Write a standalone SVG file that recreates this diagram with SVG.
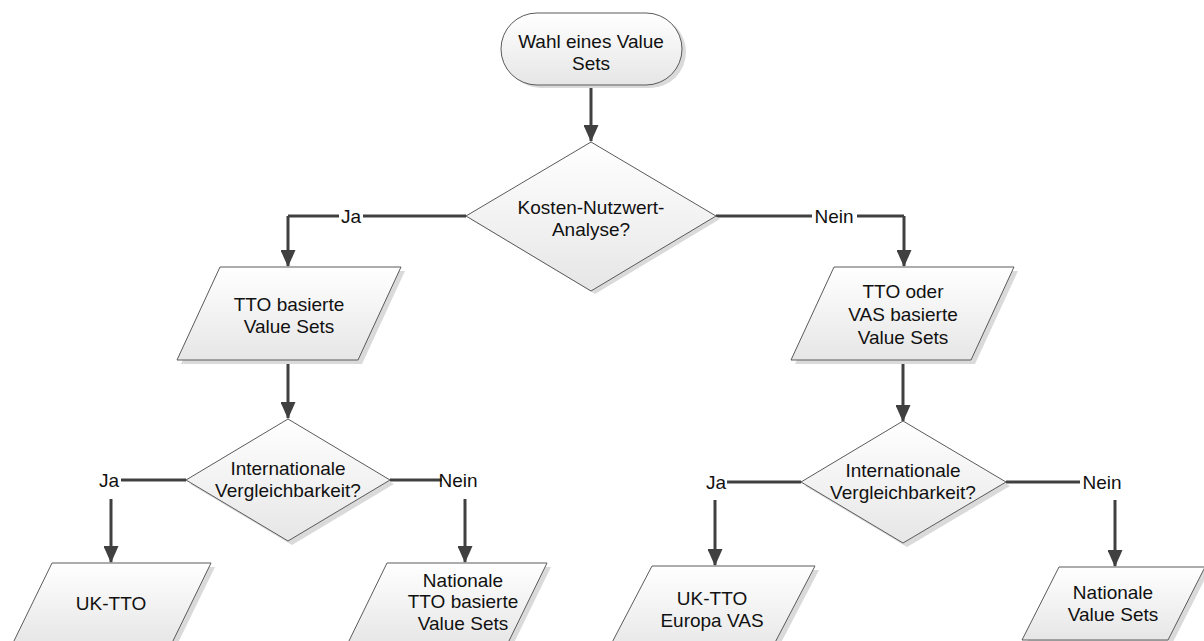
<svg xmlns="http://www.w3.org/2000/svg" width="1204" height="641" viewBox="0 0 1204 641">
<defs>
<linearGradient id="g" x1="0" y1="0" x2="0" y2="1"><stop offset="0" stop-color="#ffffff"/><stop offset="1" stop-color="#e6e6e6"/></linearGradient>
<marker id="ah" markerUnits="userSpaceOnUse" markerWidth="17" markerHeight="15" refX="16" refY="7.5" orient="auto" viewBox="0 0 17 15"><path d="M0,0 L17,7.5 L0,15 z" fill="#404040"/></marker>
</defs>
<style>
.sh{fill:#dadada}
.s{fill:url(#g);stroke:#5a5a5a;stroke-width:1}
text{font-family:"Liberation Sans",Arial,sans-serif;font-size:19px;fill:#111;text-anchor:middle}
.c{fill:none;stroke:#404040;stroke-width:3}
.a{marker-end:url(#ah)}
</style>
<rect width="1204" height="641" fill="#ffffff"/>

<g id="connectors">
<path class="c a" d="M591,85 V141"/>
<path class="c" d="M466,216 H363 M339,216 H288"/>
<path class="c a" d="M288,216 V266"/>
<path class="c" d="M716,216 H812 M857,216 H904"/>
<path class="c a" d="M904,216 V266"/>
<path class="c a" d="M288,360 V418"/>
<path class="c a" d="M903,360 V421"/>
<path class="c" d="M186,480 H121"/>
<path class="c a" d="M111,499 V562"/>
<path class="c" d="M390,480 H442"/>
<path class="c a" d="M465,499 V562"/>
<path class="c" d="M801,482 H727"/>
<path class="c a" d="M715,500 V565"/>
<path class="c" d="M1006,482 H1080"/>
<path class="c a" d="M1115,500 V566"/>
<text x="351" y="223">Ja</text>
<text x="834" y="223">Nein</text>
<text x="109" y="487">Ja</text>
<text x="458" y="487">Nein</text>
<text x="716" y="489">Ja</text>
<text x="1102" y="489">Nein</text>
</g>

<g id="start">
<rect class="sh" x="505" y="16" width="181" height="72" rx="36"/>
<rect class="s" x="501" y="13" width="181" height="72" rx="36"/>
<text x="591" y="48">Wahl eines Value</text>
<text x="591" y="70">Sets</text>
</g>

<g id="decision-kna">
<polygon class="sh" points="595,145 720,219 595,294 470,219"/>
<polygon class="s" points="591,142 716,216 591,291 466,216"/>
<text x="591" y="214">Kosten-Nutzwert-</text>
<text x="591" y="236">Analyse?</text>
</g>

<g id="tto-value-sets">
<polygon class="sh" points="224,271 405,271 362,364 181,364"/>
<polygon class="s" points="220,267 401,267 358,360 177,360"/>
<text x="289" y="311">TTO basierte</text>
<text x="289" y="333">Value Sets</text>
</g>

<g id="tto-vas-value-sets">
<polygon class="sh" points="838,271 1018,271 975,364 795,364"/>
<polygon class="s" points="834,267 1014,267 971,360 791,360"/>
<text x="903" y="298">TTO oder</text>
<text x="903" y="321">VAS basierte</text>
<text x="903" y="344">Value Sets</text>
</g>

<g id="decision-int-left">
<polygon class="sh" points="292,422 394,484 292,545 190,484"/>
<polygon class="s" points="288,419 390,480 288,541 186,480"/>
<text x="288" y="475">Internationale</text>
<text x="288" y="497">Vergleichbarkeit?</text>
</g>

<g id="decision-int-right">
<polygon class="sh" points="907,425 1010,486 907,547 805,486"/>
<polygon class="s" points="903,421 1006,482 903,543 801,482"/>
<text x="903" y="477">Internationale</text>
<text x="903" y="499">Vergleichbarkeit?</text>
</g>

<g id="uk-tto">
<polygon class="sh" points="56,567 215,567 175,649 16,649"/>
<polygon class="s" points="52,563 211,563 171,645 12,645"/>
<text x="111" y="610">UK-TTO</text>
</g>

<g id="nationale-tto">
<polygon class="sh" points="391,567 551,567 511,649 351,649"/>
<polygon class="s" points="387,563 547,563 507,645 347,645"/>
<text x="463" y="587">Nationale</text>
<text x="463" y="608">TTO basierte</text>
<text x="463" y="630">Value Sets</text>
</g>

<g id="uk-tto-europa-vas">
<polygon class="sh" points="656,570 819,570 773,658 610,658"/>
<polygon class="s" points="652,566 815,566 769,654 606,654"/>
<text x="712" y="605">UK-TTO</text>
<text x="712" y="627">Europa VAS</text>
</g>

<g id="nationale-value-sets">
<polygon class="sh" points="1063,571 1209,571 1172,644 1026,644"/>
<polygon class="s" points="1059,567 1205,567 1168,640 1022,640"/>
<text x="1113" y="599">Nationale</text>
<text x="1113" y="621">Value Sets</text>
</g>
</svg>
